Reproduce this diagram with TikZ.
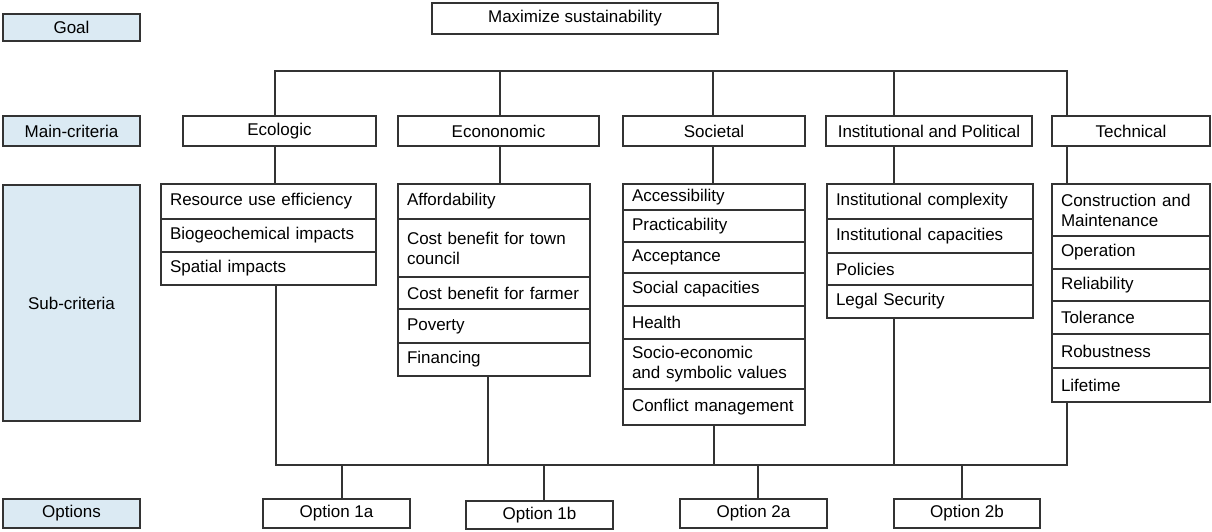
\documentclass[tikz,border=0pt]{standalone}
\usepackage{fontspec}
\setmainfont{Liberation Sans}
\definecolor{lblblue}{RGB}{219,234,243}
\begin{document}
\begin{tikzpicture}
[x=1pt,y=-1pt,
 box/.style={draw=black!80, line width=1.5pt, fill=white, inner sep=0pt, outer sep=0pt, anchor=north west, font=\fontsize{17}{20}\selectfont},
 lbl/.style={box, fill=lblblue, minimum width=137pt},
 rowbox/.style={box, align=left, inner xsep=9pt, inner ysep=0pt},
 wire/.style={draw=black!80, line width=1.5pt}]
\useasboundingbox (0,0) rectangle (1212,531);
% levels
\node[lbl, minimum height=27pt] (lgoal) at (3,14) {Goal};
\node[lbl, minimum height=30pt] (lmain) at (3,116) {Main-criteria};
\node[lbl, minimum height=236pt] (lsub) at (3,185) {Sub-criteria};
\node[lbl, minimum height=29pt] (lopt) at (3,499) {Options};
% goal
\node[box, minimum width=286pt, minimum height=31pt] (goal) at (432,3) {Maximize sustainability};
% main criteria
\node[box, minimum width=193pt, minimum height=30pt] (eco) at (183,116) {Ecologic};
\node[box, minimum width=201pt, minimum height=30pt] (ecn) at (398,116) {Econonomic};
\node[box, minimum width=182pt, minimum height=30pt] (soc) at (623,116) {Societal};
\node[box, minimum width=206pt, minimum height=30pt] (ins) at (826,116) {Institutional and Political};
\node[box, minimum width=158pt, minimum height=30pt] (tec) at (1052,116) {Technical};
% sub-criteria
\foreach \i/\a/\b/\t in {1/184/219/Resource use efficiency, 2/219/252/Biogeochemical impacts, 3/252/285/Spatial impacts}
  \node[rowbox, text width=197pt, minimum height=\b-\a] (eco\i) at (161,\a) {\t};
\foreach \i/\a/\b/\t in {1/184/219/Affordability, 2/219/277/Cost benefit for town\\council, 3/277/309/Cost benefit for farmer, 4/309/343/Poverty, 5/343/376/Financing}
  \node[rowbox, text width=174pt, minimum height=\b-\a] (ecn\i) at (398,\a) {\t};
\foreach \i/\a/\b/\t in {1/184/210/Accessibility, 2/210/242/Practicability, 3/242/273/Acceptance, 4/273/306/Social capacities, 5/306/339/Health, 6/339/389/Socio-economic\\and symbolic values, 7/389/425/Conflict management}
  \node[rowbox, text width=164pt, minimum height=\b-\a] (soc\i) at (623,\a) {\t};
\foreach \i/\a/\b/\t in {1/184/219/Institutional complexity, 2/219/253/Institutional capacities, 3/253/285/Policies, 4/285/318/Legal Security}
  \node[rowbox, text width=188pt, minimum height=\b-\a] (ins\i) at (827,\a) {\t};
\foreach \i/\a/\b/\t in {1/184/236/Construction and\\Maintenance, 2/236/269/Operation, 3/269/301/Reliability, 4/301/334/Tolerance, 5/334/368/Robustness, 6/368/402/Lifetime}
  \node[rowbox, text width=140pt, minimum height=\b-\a] (tec\i) at (1052,\a) {\t};
% options
\node[box, minimum width=147pt, minimum height=29pt] (opt1a) at (263,499) {Option 1a};
\node[box, minimum width=147pt, minimum height=28pt] (opt1b) at (466,501) {Option 1b};
\node[box, minimum width=147pt, minimum height=29pt] (opt2a) at (680,499) {Option 2a};
\node[box, minimum width=146pt, minimum height=29pt] (opt2b) at (894,499) {Option 2b};
% upper bar
\coordinate (tEco) at (275,71);
\coordinate (tEcn) at (500,71);
\coordinate (tSoc) at (713,71);
\coordinate (tIns) at (894,71);
\coordinate (tTec) at (1067,71);
\draw[wire] (tEco |- eco.north) -- (tEco) -- (tTec) -- (tTec |- tec.north);
\foreach \c/\m in {Ecn/ecn, Soc/soc, Ins/ins}
  \draw[wire] (t\c) -- (t\c |- \m.north);
\foreach \c/\m in {Eco/eco, Ecn/ecn, Soc/soc, Ins/ins, Tec/tec}
  \draw[wire] (t\c |- \m.south) -- (t\c |- \m1.north);
% lower bar
\coordinate (bEco) at (276,465);
\coordinate (bEcn) at (488,465);
\coordinate (bSoc) at (714,465);
\coordinate (bIns) at (894,465);
\coordinate (bTec) at (1067,465);
\draw[wire] (bEco |- eco3.south) -- (bEco) -- (bTec) -- (bTec |- tec6.south);
\foreach \c/\m in {Ecn/ecn5, Soc/soc7, Ins/ins4}
  \draw[wire] (b\c |- \m.south) -- (b\c);
\foreach \x/\o in {342/opt1a, 544/opt1b, 758/opt2a, 962/opt2b}
  \draw[wire] (\x,465) -- (\x,465 |- \o.north);
\end{tikzpicture}
\end{document}
